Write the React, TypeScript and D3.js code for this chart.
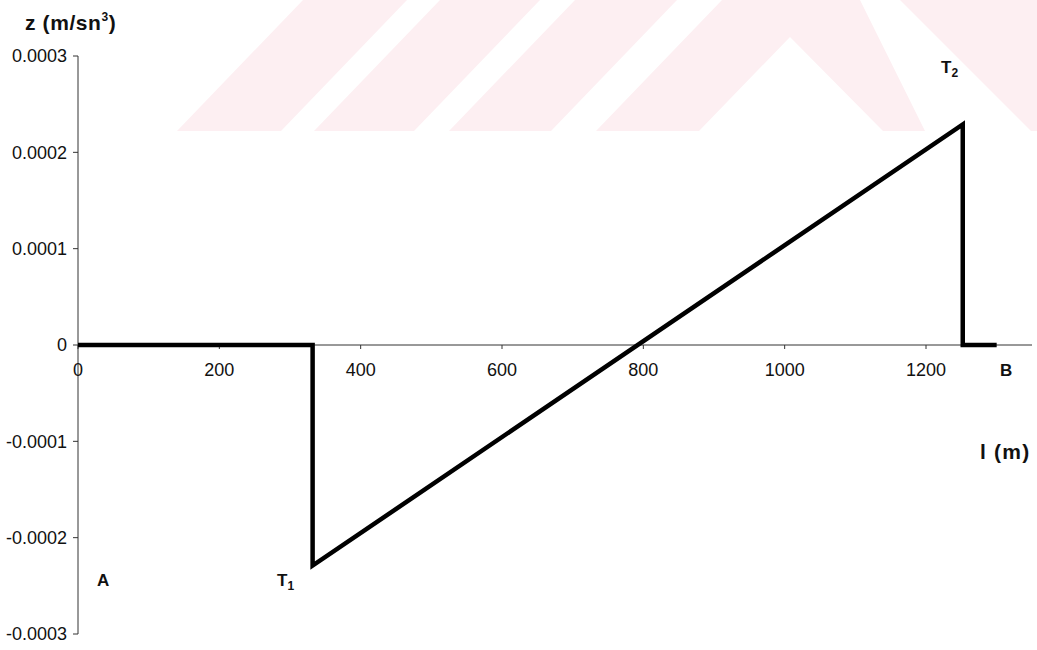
import React from 'react';
import * as d3 from 'd3';

const WIDTH = 1037;
const HEIGHT = 650;

// distance along the track (m) and the z value at each break point
const distance = [0, 332, 332, 1252, 1252, 1300];
const zValue = [0, 0, -0.000229, 0.000229, 0, 0];

const xTicks = [0, 200, 400, 600, 800, 1000, 1200];
const xTickLabels = ['0', '200', '400', '600', '800', '1000', '1200'];
const yTicks = [0.0003, 0.0002, 0.0001, 0, -0.0001, -0.0002, -0.0003];
const yTickLabels = ['0.0003', '0.0002', '0.0001', '0', '-0.0001', '-0.0002', '-0.0003'];

const FONT = '"Liberation Sans", Arial, sans-serif';

// faint background emblem: slanted bands and a roof shape
const emblem: [number, number][][] = [
  [[303, 0], [407, 0], [281, 131], [177, 131]],
  [[440, 0], [540, 0], [414, 131], [314, 131]],
  [[575, 0], [677, 0], [551, 131], [449, 131]],
  [[722, 0], [860, 0], [925, 131], [883, 131], [790, 37], [699, 131], [596, 131]],
  [[900, 0], [1037, 0], [1037, 131], [1031, 131]],
];

export default function App() {
  const x = d3.scaleLinear().domain([0, 1350]).range([78, 1032]);
  const y = d3.scaleLinear().domain([-0.0003, 0.0003]).range([634, 56]);

  const pts: [number, number][] = distance.map((d, i) => [d, zValue[i]]);
  const line = d3
    .line<[number, number]>()
    .x((d) => x(d[0]))
    .y((d) => y(d[1]));

  const y0 = y(0);
  const axisColor = '#333';

  return (
    <svg
      width={WIDTH}
      height={HEIGHT}
      style={{ position: 'absolute', left: 0, top: 0, background: '#fff' }}
      fontFamily={FONT}
    >
      <rect width={WIDTH} height={HEIGHT} fill="#fff" />
      {emblem.map((p, i) => (
        <polygon key={i} points={p.map((q) => q.join(',')).join(' ')} fill="#fdeff2" />
      ))}

      {/* y axis */}
      <line x1={x(0)} x2={x(0)} y1={y(0.0003)} y2={y(-0.0003)} stroke={axisColor} strokeWidth={1} />
      {yTicks.map((t, i) => (
        <g key={t}>
          <line x1={x(0) - 5} x2={x(0)} y1={y(t)} y2={y(t)} stroke={axisColor} strokeWidth={1} />
          <text x={67} y={y(t)} dy="0.36em" textAnchor="end" fontSize={18} fill="#111">
            {yTickLabels[i]}
          </text>
        </g>
      ))}

      {/* x axis */}
      <line x1={x(0)} x2={x(1350)} y1={y0} y2={y0} stroke={axisColor} strokeWidth={1} />
      {xTicks.map((t, i) => (
        <g key={t}>
          <line x1={x(t)} x2={x(t)} y1={y0} y2={y0 + 4} stroke={axisColor} strokeWidth={1} />
          <text x={x(t)} y={376} textAnchor="middle" fontSize={18} fill="#111">
            {xTickLabels[i]}
          </text>
        </g>
      ))}

      {/* z profile */}
      <path d={line(pts) || ''} fill="none" stroke="#000" strokeWidth={4.5} strokeLinejoin="miter" />

      {/* titles */}
      <text x={25} y={30} fontSize={21} fontWeight="bold" fill="#111" letterSpacing={0.6}>
        z (m/sn<tspan fontSize={12} dy={-9}>3</tspan><tspan dy={9}>)</tspan>
      </text>
      <text x={980} y={459} fontSize={21} fontWeight="bold" fill="#111" letterSpacing={1.2}>
        l (m)
      </text>

      {/* point labels */}
      <text x={97} y={586} fontSize={17} fontWeight="bold" fill="#111">A</text>
      <text x={1000} y={376} fontSize={17} fontWeight="bold" fill="#111">B</text>
      <text x={277} y={586} fontSize={17} fontWeight="bold" fill="#111">
        T<tspan fontSize={12} dy={4}>1</tspan>
      </text>
      <text x={941} y={73} fontSize={17} fontWeight="bold" fill="#111">
        T<tspan fontSize={12} dy={4}>2</tspan>
      </text>
    </svg>
  );
}
